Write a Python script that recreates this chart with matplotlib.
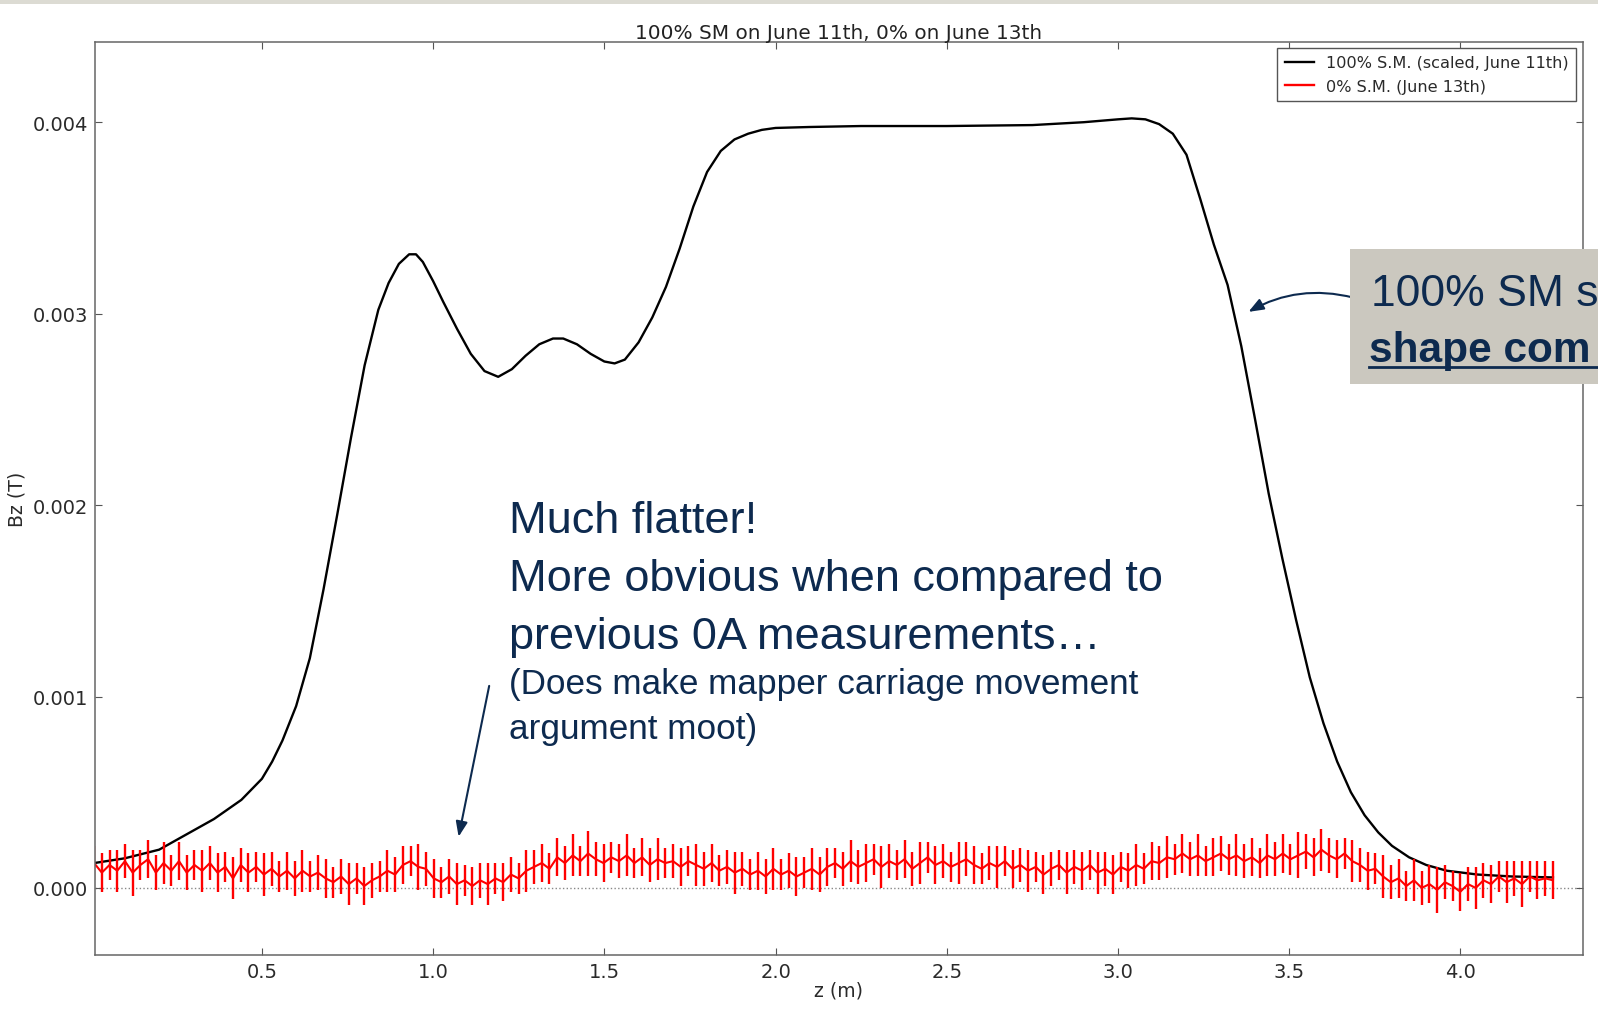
import numpy as np
import matplotlib
matplotlib.use("Agg")
import matplotlib.pyplot as plt
from matplotlib.ticker import FormatStrFormatter
from matplotlib.lines import Line2D
from matplotlib.patches import Rectangle

# ── data ───────────────────────────────────────────────────────────────
# 100% S.M. (scaled, June 11th), z in m, Bz in mT
z_full = [0.01, 0.10, 0.20, 0.28, 0.36, 0.44, 0.50, 0.53, 0.56, 0.60, 0.64, 0.68,
          0.72, 0.76, 0.80, 0.84, 0.87, 0.90, 0.93, 0.95, 0.97, 1.00, 1.03, 1.07,
          1.11, 1.15, 1.19, 1.23, 1.27, 1.31, 1.35, 1.38, 1.42, 1.46, 1.50, 1.53,
          1.56, 1.60, 1.64, 1.68, 1.72, 1.76, 1.80, 1.84, 1.88, 1.92, 1.96, 2.00,
          2.10, 2.25, 2.50, 2.75, 2.90, 3.00, 3.04, 3.08, 3.12, 3.16, 3.20, 3.24,
          3.28, 3.32, 3.36, 3.40, 3.44, 3.48, 3.52, 3.56, 3.60, 3.64, 3.68, 3.72,
          3.76, 3.80, 3.85, 3.90, 3.96, 4.05, 4.15, 4.27]
bz_full = [0.13, 0.155, 0.20, 0.28, 0.36, 0.46, 0.57, 0.66, 0.77, 0.95, 1.20, 1.56,
           1.95, 2.35, 2.73, 3.02, 3.16, 3.26, 3.31, 3.31, 3.27, 3.17, 3.06, 2.92,
           2.79, 2.70, 2.67, 2.71, 2.78, 2.84, 2.87, 2.87, 2.84, 2.79, 2.75, 2.74,
           2.76, 2.85, 2.98, 3.14, 3.34, 3.56, 3.74, 3.85, 3.91, 3.94, 3.96, 3.97,
           3.975, 3.98, 3.98, 3.985, 4.00, 4.015, 4.02, 4.015, 3.99, 3.94, 3.83, 3.60,
           3.36, 3.15, 2.83, 2.45, 2.06, 1.72, 1.40, 1.10, 0.86, 0.66, 0.50, 0.38,
           0.29, 0.22, 0.16, 0.12, 0.09, 0.07, 0.06, 0.055]

# 0% S.M. (June 13th), Bz in 1e-4 T, with error bars in 1e-4 T
bz_zero = [1.3, 0.8, 1.2, 0.9, 1.4, 0.8, 1.2, 1.5, 0.8, 1.3,
           0.9, 1.4, 0.8, 1.2, 0.9, 1.3, 0.8, 1.1, 0.5, 1.2,
           0.8, 1.1, 0.7, 1.0, 0.6, 0.9, 0.5, 0.9, 0.6, 0.8,
           0.5, 0.3, 0.6, 0.2, 0.5, 0.1, 0.4, 0.6, 0.9, 0.7,
           1.2, 1.4, 1.1, 1.0, 0.5, 0.3, 0.6, 0.2, 0.4, 0.1,
           0.4, 0.2, 0.5, 0.3, 0.7, 0.5, 0.9, 1.1, 1.3, 1.0,
           1.6, 1.3, 1.7, 1.4, 1.8, 1.5, 1.3, 1.6, 1.4, 1.7,
           1.3, 1.6, 1.2, 1.5, 1.3, 1.4, 1.1, 1.4, 1.2, 1.0,
           1.3, 0.9, 1.1, 0.8, 1.0, 0.7, 0.9, 0.6, 1.0, 0.7,
           0.9, 0.6, 0.8, 1.0, 0.7, 1.1, 1.3, 1.0, 1.4, 1.1,
           1.3, 1.5, 1.1, 1.4, 1.2, 1.5, 1.0, 1.3, 1.6, 1.2,
           1.4, 1.1, 1.3, 1.5, 1.2, 1.0, 1.3, 1.1, 1.4, 1.0,
           1.2, 0.9, 1.1, 0.7, 1.0, 1.2, 0.8, 1.1, 0.9, 1.2,
           0.8, 1.0, 0.7, 1.1, 0.9, 1.2, 1.0, 1.4, 1.3, 1.6,
           1.5, 1.8, 1.5, 1.7, 1.4, 1.6, 1.8, 1.5, 1.7, 1.4,
           1.6, 1.3, 1.7, 1.5, 1.8, 1.5, 1.7, 1.9, 1.6, 2.0,
           1.7, 1.5, 1.8, 1.4, 1.2, 0.9, 1.0, 0.6, 0.3, 0.5,
           0.1, 0.4, 0.0, 0.2, -0.1, 0.3, 0.1, -0.2, 0.2, 0.0,
           0.4, 0.2, 0.6, 0.3, 0.5, 0.2, 0.6, 0.4, 0.5, 0.4]
err_zero = [0.9, 1.0, 0.8, 1.1, 0.9, 1.2, 0.8, 1.0, 0.9, 1.1,
            0.8, 1.0, 0.9, 0.8, 1.1, 0.9, 1.0, 0.8, 1.1, 0.9,
            1.0, 0.8, 1.1, 0.9, 0.8, 1.0, 0.9, 1.1, 0.8, 0.9,
            1.0, 0.8, 0.9, 1.1, 0.8, 1.0, 0.9, 0.8, 1.1, 0.9,
            1.0, 0.8, 1.2, 0.9, 1.0, 0.8, 0.9, 1.1, 0.8, 1.0,
            0.9, 1.1, 0.8, 1.0, 0.9, 0.8, 1.1, 0.9, 1.0, 0.8,
            1.0, 0.9, 1.1, 0.8, 1.2, 0.9, 1.0, 0.8, 0.9, 1.1,
            0.8, 1.0, 0.9, 1.1, 0.8, 0.9, 1.0, 0.8, 1.1, 0.9,
            1.0, 0.8, 0.9, 1.1, 0.9, 0.8, 1.0, 0.9, 1.1, 0.8,
            0.9, 1.0, 0.8, 1.1, 0.9, 1.0, 0.8, 0.9, 1.1, 0.9,
            1.0, 0.8, 1.1, 0.9, 0.8, 1.0, 0.9, 1.1, 0.8, 1.0,
            0.9, 0.8, 1.1, 0.9, 1.0, 0.8, 0.9, 1.1, 0.8, 1.0,
            0.9, 1.1, 0.8, 1.0, 0.9, 0.8, 1.1, 0.9, 1.0, 0.8,
            1.1, 0.9, 1.0, 0.8, 0.9, 1.1, 0.8, 1.0, 0.9, 1.1,
            0.8, 1.0, 0.9, 1.1, 0.8, 1.0, 0.9, 0.8, 1.1, 0.9,
            1.0, 0.8, 1.1, 0.9, 1.0, 0.8, 1.2, 0.9, 1.0, 1.1,
            0.9, 1.0, 0.8, 1.1, 0.9, 1.0, 0.8, 1.1, 0.9, 1.0,
            0.8, 1.1, 0.9, 1.0, 1.2, 0.9, 0.8, 1.0, 0.9, 1.1,
            0.9, 1.0, 0.8, 1.1, 0.9, 1.2, 0.8, 1.0, 0.9, 1.0]
# measurement grid: evenly spaced steps along z
z_zero = np.linspace(0.01, 4.27, len(bz_zero))

x_ticks = [0.5, 1.0, 1.5, 2.0, 2.5, 3.0, 3.5, 4.0]
y_ticks = [0.000, 0.001, 0.002, 0.003, 0.004]

NAVY = "#0d2a4f"
W, H = 1568.0, 993.0     # coords measured on the shrunk reference


def fx(px):
    return px / W


def fy(py):
    return 1.0 - py / H


fig = plt.figure(figsize=(15.98, 10.12), dpi=100, facecolor="white")

# slide strip along the top
fig.add_artist(Rectangle((0, fy(5)), 1, 1 - fy(5), transform=fig.transFigure,
                         facecolor="#dcdbd3", edgecolor="none"))

ax = fig.add_axes([fx(93), fy(938), fx(1553) - fx(93), fy(42) - fy(938)])

ax.plot(z_full, np.array(bz_full) * 1e-3, color="black", lw=1.7)
ax.errorbar(z_zero, np.array(bz_zero) * 1e-4, yerr=np.array(err_zero) * 1e-4,
            color="red", lw=1.5, elinewidth=1.7, capsize=0)
ax.axhline(0, color="#888888", lw=1.0, ls=":", zorder=0)

ax.set_xlim(0.012, 4.357)
ax.set_ylim(-0.00035, 0.00442)
ax.set_xticks(x_ticks)
ax.set_yticks(y_ticks)
ax.yaxis.set_major_formatter(FormatStrFormatter("%.3f"))
ax.tick_params(direction="in", length=5, width=0.8, top=True, right=True,
               labelsize=14, colors="#555555", labelcolor="#2a2a2a", pad=5)
for spine in ax.spines.values():
    spine.set_edgecolor("#666666")
    spine.set_linewidth(1.1)

ax.set_title("100% SM on June 11th, 0% on June 13th", fontsize=14.4,
             color="#222222", pad=3)
ax.set_xlabel("z (m)", fontsize=13.6, color="#2a2a2a", labelpad=0)
ax.set_ylabel("Bz (T)", fontsize=13.6, color="#2a2a2a", labelpad=4)

handles = [Line2D([], [], color="black", lw=1.7),
           Line2D([], [], color="red", lw=1.7)]
leg = ax.legend(handles, ["100% S.M. (scaled, June 11th)", "0% S.M. (June 13th)"],
                loc="upper right", fontsize=11.6, handlelength=1.8,
                borderaxespad=0.4, fancybox=False, framealpha=1,
                labelcolor="#2a2a2a", borderpad=0.45, labelspacing=0.5)
leg.get_frame().set_edgecolor("#555555")
leg.get_frame().set_linewidth(1.0)

# ── slide annotations ─────────────────────────────────────────────────
slide_font = ["Liberation Sans", "DejaVu Sans"]
big = [("Much flatter!", 523), ("More obvious when compared to", 580),
       ("previous 0A measurements…", 637)]
for txt, yb in big:
    fig.text(fx(499), fy(yb), txt, fontsize=32.5, color=NAVY,
             family=slide_font, va="baseline")
small = [("(Does make mapper carriage movement", 681),
         ("argument moot)", 725)]
for txt, yb in small:
    fig.text(fx(499), fy(yb), txt, fontsize=25.3, color=NAVY,
             family=slide_font, va="baseline")

ax.annotate("", xy=(fx(450), fy(822)), xytext=(fx(480), fy(674)),
            xycoords="figure fraction", textcoords="figure fraction",
            annotation_clip=False,
            arrowprops=dict(arrowstyle="-|>,head_length=0.9,head_width=0.35",
                            color=NAVY, lw=1.5, shrinkA=0, shrinkB=0))

# grey call-out box, cut off by the slide edge
fig.add_artist(Rectangle((fx(1325), fy(378)), 1 - fx(1325), fy(245) - fy(378),
                         transform=fig.transFigure, facecolor="#cbc8bf",
                         edgecolor="none"))
fig.text(fx(1345), fy(300), "100% SM s", fontsize=32, color=NAVY,
         family=slide_font, va="baseline")
fig.text(fx(1343), fy(355), "shape com", fontsize=30.5, color=NAVY,
         family=slide_font, weight="bold", va="baseline")
fig.add_artist(Line2D([fx(1343), 1.0], [fy(361), fy(361)],
                      transform=fig.transFigure, color=NAVY, lw=2))

ax.annotate("", xy=(fx(1225), fy(307)), xytext=(fx(1328), fy(293)),
            xycoords="figure fraction", textcoords="figure fraction",
            annotation_clip=False,
            arrowprops=dict(arrowstyle="-|>,head_length=0.9,head_width=0.35",
                            color=NAVY, lw=1.5, shrinkA=0, shrinkB=0,
                            connectionstyle="arc3,rad=0.2"))

fig.savefig("out.png", dpi=100)
